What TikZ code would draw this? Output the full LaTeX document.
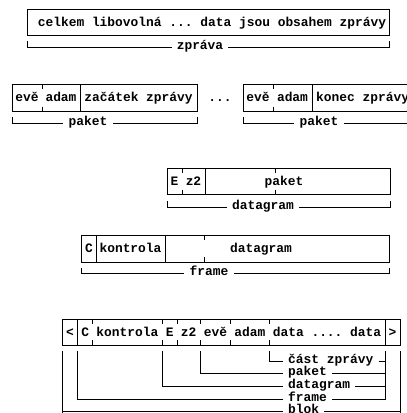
\documentclass[tikz,border=0pt]{standalone}
\usepackage{fontspec}
\setmonofont{Liberation Mono}
\newcommand{\tw}{\ttfamily\bfseries\fontsize{12.9pt}{14pt}\selectfont}
\begin{document}
\begin{tikzpicture}[x=1pt,y=-1pt,
  txt/.style={font=\tw, inner sep=0pt, anchor=base},
  txtw/.style={font=\tw, inner sep=0pt, anchor=base west},
  lbl/.style={font=\tw, inner xsep=5pt, inner ysep=0pt, anchor=mid},
  lblw/.style={font=\tw, inner xsep=5pt, inner ysep=0pt, anchor=mid west},
  frm/.style={line width=0.9pt},
  brk/.style={line width=0.8pt},
]
\useasboundingbox (0,0) rectangle (407,413);
\clip (0,0) rectangle (407,413);

% ---------- row 1 ----------
\draw[frm] (27,9.5) rectangle (389,35);
\node[txt] (t1) at (212,26.5) {celkem libovolná ... data jsou obsahem zprávy};
\coordinate (z1l) at (27,41); \coordinate (z1r) at (389,41);
\node[lbl] (zl) at (200,47.5) {zpráva};
\draw[brk] (z1l) |- (zl.mid west);
\draw[brk] (z1r) |- (zl.mid east);

% ---------- row 2 ----------
\draw[frm] (12,84) rectangle (197,111.5);
\draw[frm] (42,84) -- (42,89) (42,106.5) -- (42,111.5);
\draw[frm] (80,84) -- (80,111.5);
\node[txt] (a1) at (27,101.75) {evě};
\node[txt] (a2) at (61,101.75) {adam};
\node[txt] (a3) at (138.5,101.75) {začátek zprávy};
\coordinate (p1l) at (12,117); \coordinate (p1r) at (197,117);
\node[lbl] (pl1) at (88,123) {paket};
\draw[brk] (p1l) |- (pl1.mid west);
\draw[brk] (p1r) |- (pl1.mid east);

\node[txt] (dots) at (220,101.75) {...};

\draw[frm] (243,84) rectangle (420,111.5);
\draw[frm] (273,84) -- (273,89) (273,106.5) -- (273,111.5);
\draw[frm] (312,84) -- (312,111.5);
\node[txt] (b1) at (258,101.75) {evě};
\node[txt] (b2) at (292.5,101.75) {adam};
\node[txtw] (b3) at (316,101.75) {konec zprávy};
\coordinate (p2l) at (243,117); \coordinate (p2r) at (420,123);
\node[lbl] (pl2) at (319,123) {paket};
\draw[brk] (p2l) |- (pl2.mid west);
\draw[brk] (pl2.mid east) -- (p2r);

% ---------- row 3 ----------
\draw[frm] (167,168) rectangle (390,194.5);
\draw[frm] (182,168) -- (182,173) (182,189.5) -- (182,194.5);
\draw[frm] (205,168) -- (205,194.5);
\draw[frm] (275,168) -- (275,173) (275,189.5) -- (275,194.5);
\node[txt] (c1) at (174.5,185.25) {E};
\node[txt] (c2) at (193.5,185.25) {z2};
\node[txt] (c3) at (284,185.25) {paket};
\coordinate (d1l) at (167,201); \coordinate (d1r) at (390,201);
\node[lbl] (dl) at (263,207) {datagram};
\draw[brk] (d1l) |- (dl.mid west);
\draw[brk] (d1r) |- (dl.mid east);

% ---------- row 4 ----------
\draw[frm] (81.7,235) rectangle (389,262);
\draw[frm] (96,235) -- (96,262);
\draw[frm] (165,235) -- (165,262);
\draw[frm] (204,235) -- (204,240) (204,257) -- (204,262);
\node[txt] (e1) at (89,252.5) {C};
\node[txt] (e2) at (130.5,252.5) {kontrola};
\node[txt] (e3) at (261,252.5) {datagram};
\coordinate (f1l) at (81.7,268); \coordinate (f1r) at (389,268);
\node[lbl] (fl) at (209,273.5) {frame};
\draw[brk] (f1l) |- (fl.mid west);
\draw[brk] (f1r) |- (fl.mid east);

% ---------- row 5 ----------
\draw[frm] (62.5,319) rectangle (400,345);
\draw[frm] (77.6,319) -- (77.6,345);
\draw[frm] (385,319) -- (385,345);
\foreach \x in {92.7,162.1,177.2,200.1,230.7,269.1}
  \draw[frm] (\x,319) -- (\x,324) (\x,340) -- (\x,345);
\node[txt] (g1) at (70,336) {<};
\node[txt] (g2) at (85.2,336) {C};
\node[txt] (g3) at (127.4,336) {kontrola};
\node[txt] (g4) at (169.7,336) {E};
\node[txt] (g5) at (188.7,336) {z2};
\node[txt] (g6) at (215.4,336) {evě};
\node[txt] (g7) at (249.9,336) {adam};
\node[txt] (g8) at (327,336) {data .... data};
\node[txt] (g9) at (392.5,336) {>};

\coordinate (hc) at (269.1,351);
\coordinate (hp) at (200.1,351);
\coordinate (hd) at (162.1,351);
\coordinate (hf) at (77.6,351);
\coordinate (hb) at (62.5,351);
\coordinate (rr) at (385,351);
\coordinate (rb) at (400,351);

\node[lblw] (lc) at (283,361) {část zprávy};
\node[lblw] (lp) at (283,373.5) {paket};
\node[lblw] (ld) at (283,386.5) {datagram};
\node[lblw] (lf) at (283,399) {frame};
\node[lblw] (lb) at (283,411.5) {blok};

\draw[brk] (hc) |- (lc.mid west);
\draw[brk] (hp) |- (lp.mid west);
\draw[brk] (hd) |- (ld.mid west);
\draw[brk] (hf) |- (lf.mid west);
\draw[brk] (hb) -- (62.5,420);
\draw[brk] (62.5,411.5) -- (lb.mid west);

\draw[brk] (rr) |- (lf.mid east);
\draw[brk] (lc.mid east) -- (lc.mid east -| rr);
\draw[brk] (lp.mid east) -- (lp.mid east -| rr);
\draw[brk] (ld.mid east) -- (ld.mid east -| rr);
\draw[brk] (rb) -- (400,420);
\draw[brk] (lb.mid east) -- (lb.mid east -| rb);
\end{tikzpicture}
\end{document}
